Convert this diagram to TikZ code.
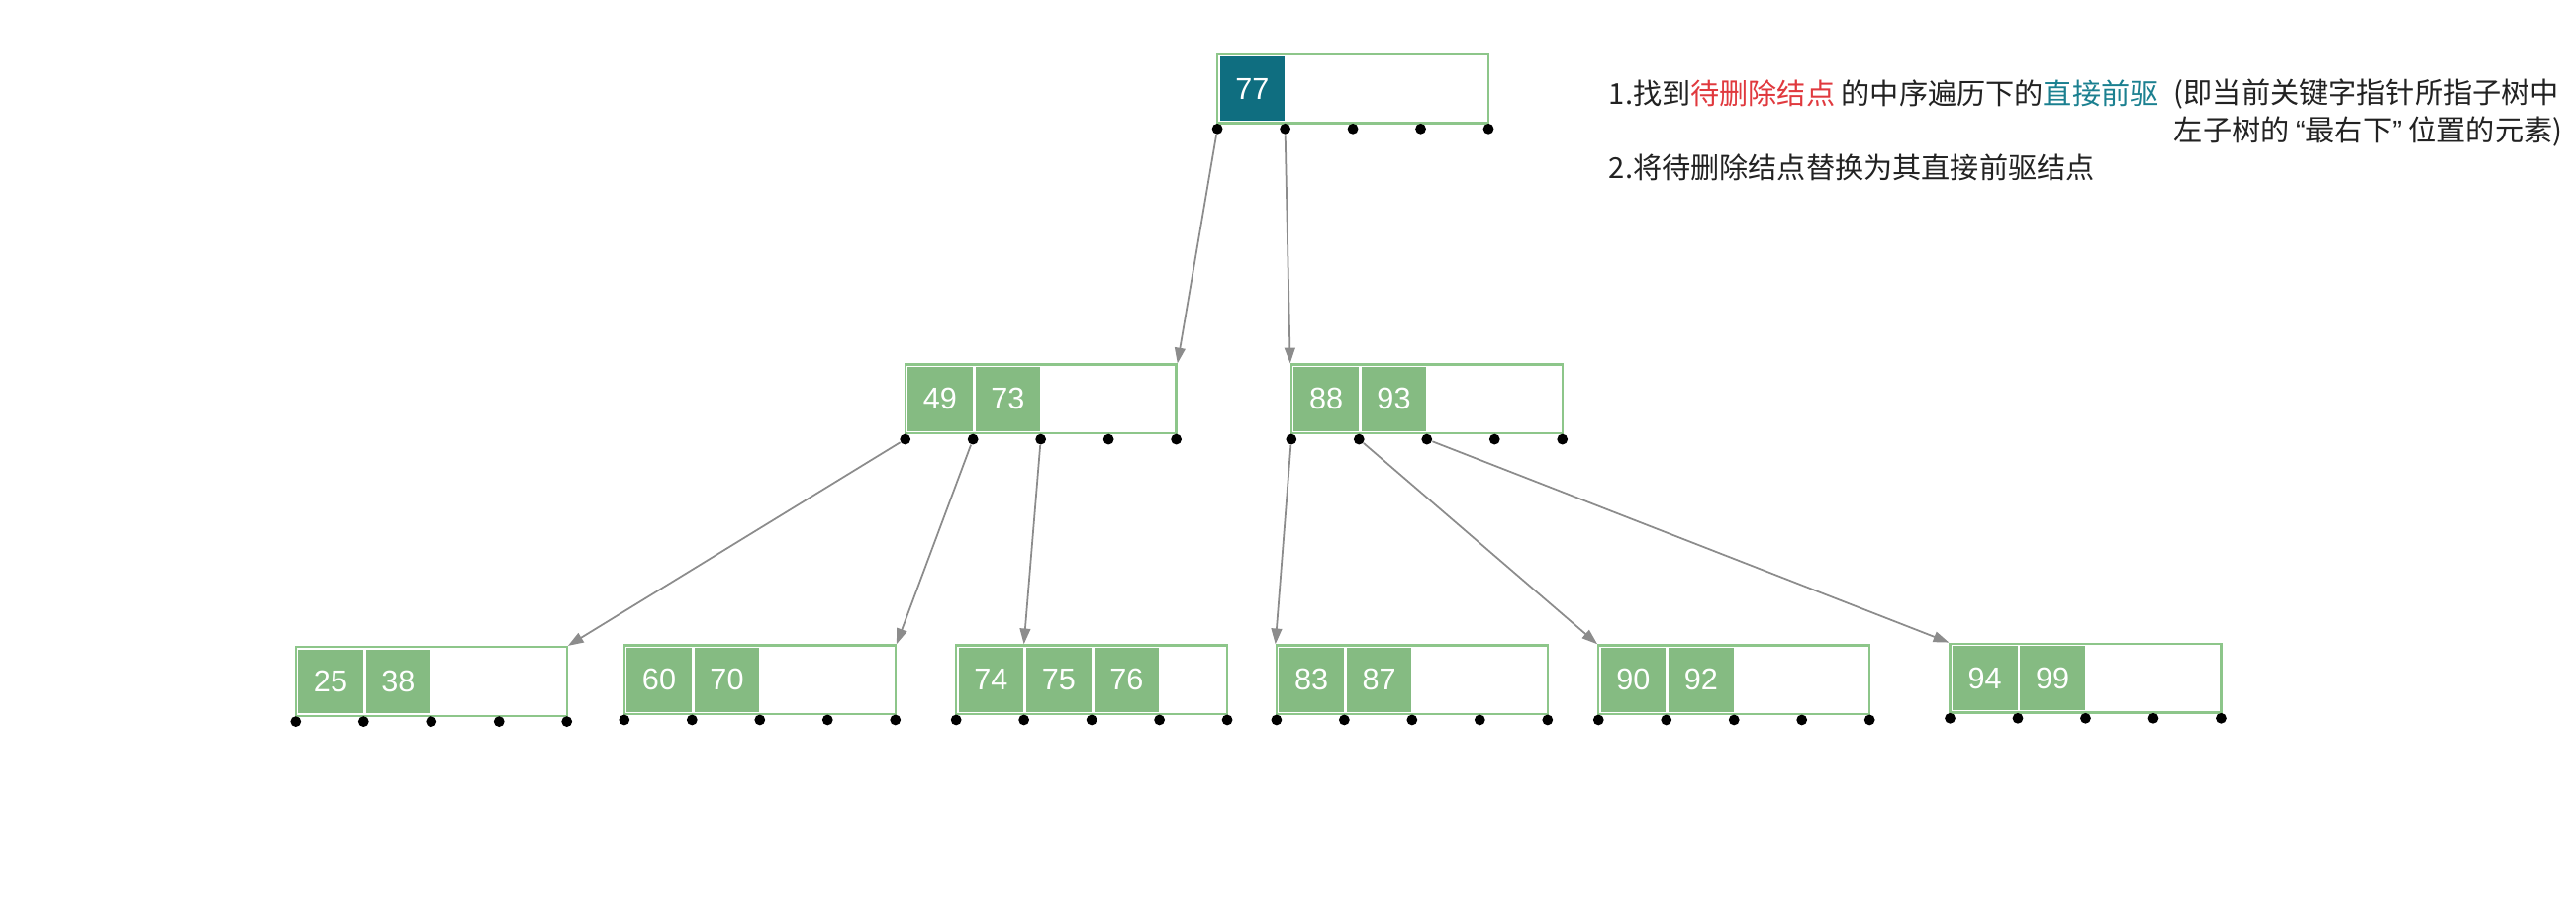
\documentclass[tikz,border=0pt]{standalone}
\usepackage{fontspec}
\setmainfont{Liberation Sans}
\newfontfamily\cjk{Noto Sans CJK SC}
\newfontfamily\latinq{Liberation Sans}
\usetikzlibrary{arrows.meta}
\definecolor{bborder}{HTML}{8DC68A}
\definecolor{cellgreen}{HTML}{85BB82}
\definecolor{celldark}{HTML}{0F6E80}
\definecolor{txtred}{HTML}{E0393E}
\definecolor{txtteal}{HTML}{1B8090}
\definecolor{arrowgray}{HTML}{8C8C8C}
\definecolor{txtdark}{HTML}{222222}
\tikzset{
  bbox/.style={draw=bborder, line width=0.8pt, minimum width=3.3cm, minimum height=0.84cm, inner sep=0pt, fill=white},
  cell/.style={fill=cellgreen, text=white, minimum width=0.79cm, minimum height=0.78cm, inner sep=0pt, font=\fontsize{10.5}{12}\selectfont},
  bdot/.style={circle, fill=black, inner sep=0pt, minimum size=0.13cm},
  link/.style={draw=arrowgray, line width=0.6pt, -{Triangle[length=0.19cm,width=0.13cm]}},
  note/.style={anchor=west, inner sep=0pt, text=txtdark, font=\cjk\fontsize{10}{13}\selectfont}
}
\newcommand\btnode[5]{% name, x, y, keys, fill
  \node[bbox] (#1) at (#2+82.5,#3+21) {};
  \foreach \k [count=\i] in {#4} {
    \node[cell, fill=#5] (#1-c\i) at (#2+21.2+\i*41.25-41.25,#3+21) {\k};
  }
  \foreach \i in {0,...,4} {
    \node[bdot] (#1-d\i) at (#2+\i*41.25,#3+45.5) {};
  }
}
\begin{document}
\begin{tikzpicture}[x=0.02cm,y=-0.02cm]
\useasboundingbox (0,0) rectangle (1568,552);
\btnode{root}{741}{33}{77}{celldark}
\btnode{L}{551}{222}{49,73}{cellgreen}
\btnode{R}{786}{222}{88,93}{cellgreen}
\btnode{A}{180}{394}{25,38}{cellgreen}
\btnode{B}{380}{393}{60,70}{cellgreen}
\btnode{C}{582}{393}{74,75,76}{cellgreen}
\btnode{D}{777}{393}{83,87}{cellgreen}
\btnode{E}{973}{393}{90,92}{cellgreen}
\btnode{F}{1187}{392}{94,99}{cellgreen}
\draw[link] (root-d0) -- (L.north east);
\draw[link] (root-d1) -- (R.north west);
\draw[link] (L-d0) -- (A.north east);
\draw[link] (L-d1) -- (B.north east);
\draw[link] (L-d2) -- (C-d1 |- C.north);
\draw[link] (R-d0) -- (D.north west);
\draw[link] (R-d1) -- (E.north west);
\draw[link] (R-d2) -- (F.north west);
\node[note] (t1) at (979,57) {1.找到{\color{txtred}待删除结点} 的中序遍历下的{\color{txtteal}直接前驱}};
\node[note] (t2) at (1323,57) {(即当前关键字指针所指子树中};
\node[note] (t3) at (1323,80) {左子树的 {\latinq “}最右下{\latinq ”} 位置的元素)};
\node[note] (t4) at (979,102) {2.将待删除结点替换为其直接前驱结点};
\end{tikzpicture}
\end{document}
